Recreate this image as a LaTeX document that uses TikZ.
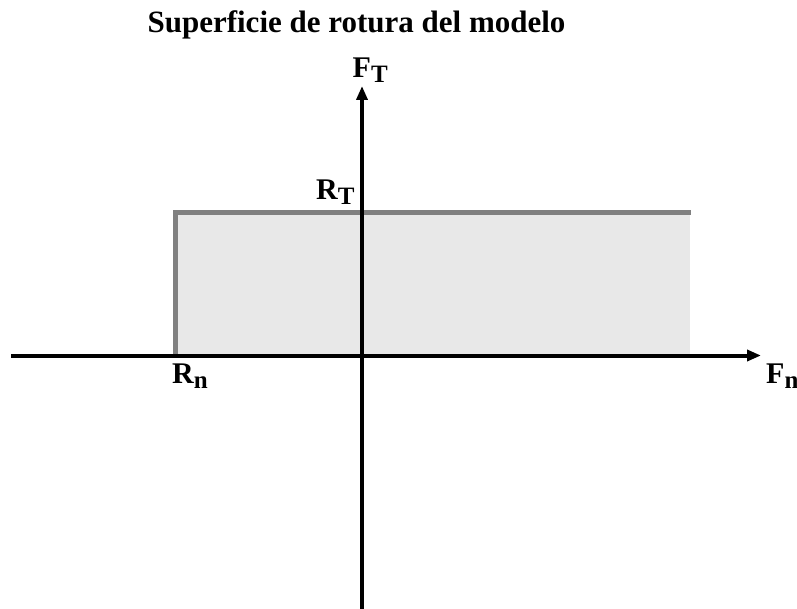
\documentclass[tikz,border=0pt]{standalone}
\usepackage{fontspec}
\setmainfont{Liberation Serif}
\usetikzlibrary{arrows.meta}
\definecolor{bordergray}{HTML}{808080}
\definecolor{fillgray}{HTML}{E8E8E8}
\newcommand{\mylab}[2]{{\fontsize{30}{36}\selectfont\bfseries #1}\raisebox{-5pt}{\fontsize{25}{30}\selectfont\bfseries #2}}
\tikzset{
  axis/.style={line width=4pt, draw=black, -{Triangle[length=14pt,width=11pt]}},
  border/.style={line width=5pt, draw=bordergray},
  lab/.style={inner sep=0pt, anchor=base west},
}
\begin{document}
\begin{tikzpicture}[x=1pt,y=-1pt]
\useasboundingbox (0,0) rectangle (797,609);
% region
\fill[fillgray] (175.5,212.5) rectangle (690,355.5);
\coordinate (rn) at (175.5,355.5);
\coordinate (corner) at (175.5,212.5);
\coordinate (rend) at (691,212.5);
\draw[border] (rn) -- (corner) -- (rend);
% axes
\coordinate (xs) at (11,355.5);
\coordinate (xe) at (761,355.5);
\coordinate (ys) at (362,609);
\coordinate (ye) at (362,86);
\draw[axis] (xs) -- (xe);
\draw[axis] (ys) -- (ye);
% labels
\node[inner sep=0pt, anchor=base] (title) at (356.5,33) {\fontsize{31}{37}\selectfont\bfseries Superficie de rotura del modelo};
\node[lab] (FT) at (352.5,78) {\mylab{F}{T}};
\node[lab] (RT) at (316,200) {\mylab{R}{T}};
\node[lab] (Rn) at (172,383) {\mylab{R}{n}};
\node[lab] (Fn) at (766,383) {\mylab{F}{n}};
\end{tikzpicture}
\end{document}
